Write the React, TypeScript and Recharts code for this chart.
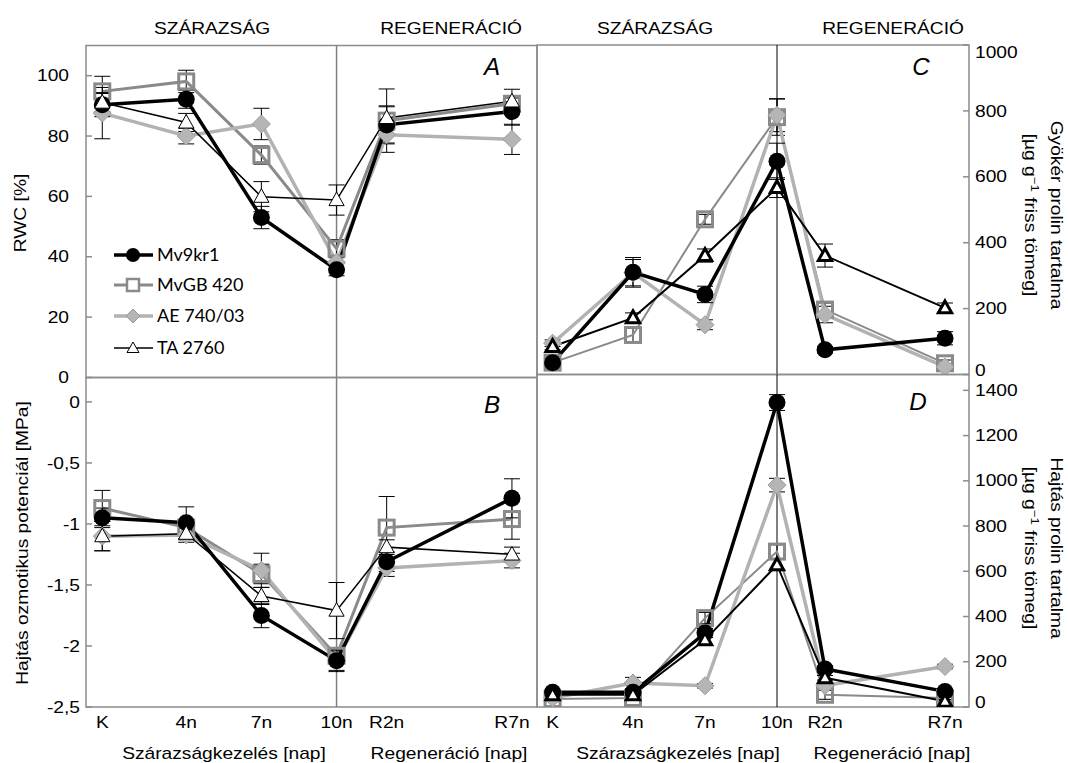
import React from "react";
import {
  LineChart,
  Line,
  XAxis,
  YAxis,
  ErrorBar,
  ReferenceLine,
  ReferenceArea,
} from "recharts";

const W = 1068;
const H = 763;

// sampling days (K = control) and their tick labels
const dayPos = [0.65, 4, 7, 10, 12, 17];
const dayLabels = ["K", "4n", "7n", "10n", "R2n", "R7n"];
const cultivars = ["Mv9kr1", "MvGB 420", "AE 740/03", "TA 2760"];

// A: RWC [%]
const rwcMv9kr1 = [90.4, 92.2, 53.0, 35.7, 83.7, 88.1];
const rwcMvGB420 = [94.8, 98.1, 73.7, 42.7, 85.1, 90.7];
const rwcAE74003 = [87.6, 80.0, 84.0, 38.2, 80.4, 78.9];
const rwcTA2760 = [91.1, 84.5, 59.9, 58.8, 86.0, 91.5];
const rwcMv9kr1Sd = [4, 3, 3.7, 2, 6, 4.5];
const rwcMvGB420Sd = [5, 3.7, 3, 3, 10.5, 2.3];
const rwcAE74003Sd = [8.5, 2.6, 5.2, 2, 3, 5];
const rwcTA2760Sd = [3, 3, 5, 5, 4, 4];

// B: shoot osmotic potential [MPa]
const opMv9kr1 = [-0.95, -0.99, -1.75, -2.12, -1.31, -0.79];
const opMvGB420 = [-0.87, -1.03, -1.41, -2.08, -1.03, -0.96];
const opAE74003 = [-1.1, -1.09, -1.38, -2.12, -1.36, -1.3];
const opTA2760 = [-1.1, -1.08, -1.59, -1.71, -1.19, -1.25];
const opMv9kr1Sd = [0.08, 0.13, 0.1, 0.09, 0.08, 0.16];
const opMvGB420Sd = [0.145, 0.06, 0.08, 0.05, 0.255, 0.165];
const opAE74003Sd = [0.12, 0.06, 0.14, 0.08, 0.07, 0.06];
const opTA2760Sd = [0.12, 0.05, 0.07, 0.23, 0.06, 0.06];

// C: root proline [ug/g fresh weight]
const rootMv9kr1 = [36, 310, 243, 647, 75, 110];
const rootMvGB420 = [36, 120, 471, 781, 197, 34];
const rootAE74003 = [95, 309, 151, 787, 182, 23];
const rootTA2760 = [85, 172, 361, 567, 361, 202];
const rootMv9kr1Sd = [10, 45, 25, 55, 10, 20];
const rootMvGB420Sd = [8, 20, 15, 55, 20, 10];
const rootAE74003Sd = [10, 40, 15, 50, 25, 8];
const rootTA2760Sd = [10, 15, 20, 30, 35, 15];

// D: shoot proline [ug/g fresh weight]
const shootMv9kr1 = [65, 65, 327, 1346, 168, 69];
const shootMvGB420 = [35, 40, 393, 687, 54, 40];
const shootAE74003 = [40, 106, 94, 981, 95, 179];
const shootTA2760 = [54, 54, 297, 628, 129, 25];
const shootMv9kr1Sd = [10, 10, 20, 35, 15, 10];
const shootMvGB420Sd = [8, 8, 25, 30, 20, 8];
const shootAE74003Sd = [8, 25, 10, 30, 10, 10];
const shootTA2760Sd = [8, 8, 20, 25, 10, 8];

const rwcTicks = [0, 20, 40, 60, 80, 100];
const opTicks = [0, -0.5, -1, -1.5, -2, -2.5];
const rootTicks = [0, 200, 400, 600, 800, 1000];
const shootTicks = [0, 200, 400, 600, 800, 1000, 1200, 1400];

const INK = "#000000";
const MID = "#8a8a8a";
const LIGHT = "#b2b2b2";
const FRAME = "#8c8c8c";
const AXIS_FONT = "'Liberation Sans', Arial, sans-serif";
const SX = 1.2;

const comma = (v: number) => String(v).replace(".", ",");

// markers
const dotCircle = (p: any) => (
  <circle key={`c${p.index}`} cx={p.cx} cy={p.cy} r={8.5} fill={INK} />
);
const dotSquare = (p: any) => (
  <rect
    key={`s${p.index}`}
    x={p.cx - 7.5}
    y={p.cy - 7.5}
    width={15}
    height={15}
    fill="none"
    stroke={MID}
    strokeWidth={3}
  />
);
const dotDiamond = (p: any) => (
  <polygon
    key={`d${p.index}`}
    points={`${p.cx},${p.cy - 9} ${p.cx + 9},${p.cy} ${p.cx},${p.cy + 9} ${p.cx - 9},${p.cy}`}
    fill="#b5b5b5"
    stroke="#9c9c9c"
    strokeWidth={1}
  />
);
const dotTriangle = (sw: number, s: number) => (p: any) => (
  <polygon
    key={`t${p.index}`}
    points={`${p.cx},${p.cy - s} ${p.cx + s * 0.95},${p.cy + s * 0.7} ${p.cx - s * 0.95},${p.cy + s * 0.7}`}
    fill="#ffffff"
    stroke={INK}
    strokeWidth={sw}
  />
);

function makeYTick(
  side: "left" | "right",
  gap: number,
  fmt: (v: number) => string,
  shift: Record<string, number>
) {
  return (props: any) => {
    const { x, y, payload } = props;
    const v = payload.value as number;
    const inward = side === "left" ? 6 : -6;
    const lx = side === "left" ? x - gap : x + gap;
    return (
      <g key={`y${v}`}>
        <line x1={x} x2={x + inward} y1={y} y2={y} stroke={FRAME} strokeWidth={1.5} />
        <text
          transform={`translate(${lx} ${y + (shift[String(v)] ?? 0)}) scale(${SX} 1)`}
          dy="0.35em"
          textAnchor={side === "left" ? "end" : "start"}
          fontFamily={AXIS_FONT}
          fontSize={16}
          fill={INK}
        >
          {fmt(v)}
        </text>
      </g>
    );
  };
}

const xTick = (props: any) => {
  const { x, y, payload } = props;
  const i = dayPos.indexOf(payload.value);
  return (
    <text
      key={`x${i}`}
      transform={`translate(${x} ${y + 15}) scale(${SX} 1)`}
      dy="0.35em"
      textAnchor="middle"
      fontFamily={AXIS_FONT}
      fontSize={16}
      fill={INK}
    >
      {dayLabels[i]}
    </text>
  );
};

type PanelProps = {
  series: number[][];
  errs: number[][];
  left: number;
  top: number;
  right: number;
  bottom: number;
  domain: [number, number];
  ticks: number[];
  fmt: (v: number) => string;
  side: "left" | "right";
  gap: number;
  shift?: Record<string, number>;
  withX: boolean;
  divider: string;
  dividerWidth: number;
  widths: number[];
  triStroke: number;
  triSize: number;
};

function Panel(p: PanelProps) {
  const rows = dayPos.map((d, i) => ({
    day: d,
    v0: p.series[0][i],
    e0: p.errs[0][i],
    v1: p.series[1][i],
    e1: p.errs[1][i],
    v2: p.series[2][i],
    e2: p.errs[2][i],
    v3: p.series[3][i],
    e3: p.errs[3][i],
  }));
  const axisW = 10;
  const xh = 10;
  const margin = {
    top: p.top,
    bottom: p.withX ? H - p.bottom - xh : H - p.bottom,
    left: p.side === "left" ? p.left - axisW : p.left,
    right: p.side === "right" ? W - p.right - axisW : W - p.right,
  };
  const err = (k: string) => (
    <ErrorBar
      dataKey={k}
      direction="y"
      width={8}
      stroke={INK}
      strokeWidth={1}
      isAnimationActive={false}
    />
  );
  return (
    <div style={{ position: "absolute", left: 0, top: 0 }}>
      <LineChart width={W} height={H} data={rows} margin={margin}>
        <XAxis
          type="number"
          dataKey="day"
          domain={[0, 18]}
          ticks={dayPos}
          interval={0}
          hide={!p.withX}
          height={xh}
          axisLine={false}
          tickLine={false}
          tickSize={0}
          tickMargin={0}
          tick={xTick}
          allowDataOverflow
        />
        <YAxis
          type="number"
          orientation={p.side}
          domain={p.domain}
          ticks={p.ticks}
          interval={0}
          width={axisW}
          axisLine={false}
          tickLine={false}
          tickSize={0}
          tickMargin={0}
          tick={makeYTick(p.side, p.gap, p.fmt, p.shift ?? {})}
          allowDataOverflow
        />
        <ReferenceArea
          x1={0}
          x2={18}
          y1={p.domain[0]}
          y2={p.domain[1]}
          fill="none"
          stroke={FRAME}
          strokeWidth={1.5}
        />
        <ReferenceLine x={10} stroke={p.divider} strokeWidth={p.dividerWidth} />
        <Line
          dataKey="v1"
          stroke={MID}
          strokeWidth={p.widths[1]}
          dot={dotSquare}
          isAnimationActive={false}
        >
          {err("e1")}
        </Line>
        <Line
          dataKey="v2"
          stroke={LIGHT}
          strokeWidth={p.widths[2]}
          dot={dotDiamond}
          isAnimationActive={false}
        >
          {err("e2")}
        </Line>
        <Line
          dataKey="v0"
          stroke={INK}
          strokeWidth={p.widths[0]}
          dot={dotCircle}
          isAnimationActive={false}
        >
          {err("e0")}
        </Line>
        <Line
          dataKey="v3"
          stroke={INK}
          strokeWidth={p.widths[3]}
          dot={dotTriangle(p.triStroke, p.triSize)}
          isAnimationActive={false}
        >
          {err("e3")}
        </Line>
      </LineChart>
    </div>
  );
}

function T({
  x,
  y,
  children,
  rotate = 0,
  size = 16,
  anchor = "middle",
  italic = false,
  sx = SX,
  font = AXIS_FONT,
}: any) {
  return (
    <text
      transform={`translate(${x} ${y}) rotate(${rotate}) scale(${sx} 1)`}
      dy="0.35em"
      textAnchor={anchor}
      fontFamily={font}
      fontSize={size}
      fontStyle={italic ? "italic" : "normal"}
      fill={INK}
    >
      {children}
    </text>
  );
}

function LegendRow({ y, i }: { y: number; i: number }) {
  const cx = 133;
  const line = [
    { stroke: INK, w: 3.5 },
    { stroke: MID, w: 3 },
    { stroke: LIGHT, w: 3.5 },
    { stroke: INK, w: 1.5 },
  ][i];
  const marker = [
    <circle cx={cx} cy={y} r={7} fill={INK} />,
    <rect x={cx - 6} y={y - 6} width={12} height={12} fill="#fff" stroke={MID} strokeWidth={2.5} />,
    <polygon
      points={`${cx},${y - 7} ${cx + 7},${y} ${cx},${y + 7} ${cx - 7},${y}`}
      fill="#b5b5b5"
      stroke="#9c9c9c"
    />,
    <polygon
      points={`${cx},${y - 6} ${cx + 6},${y + 4.5} ${cx - 6},${y + 4.5}`}
      fill="#fff"
      stroke={INK}
    />,
  ][i];
  return (
    <g>
      <line x1={114} x2={153} y1={y} y2={y} stroke={line.stroke} strokeWidth={line.w} />
      {marker}
      <text x={157} y={y} dy="0.35em" fontFamily="Lato, sans-serif" fontSize={18} fill={INK}>
        {cultivars[i]}
      </text>
    </g>
  );
}

export default function App() {
  const thinLines = [3.5, 3, 3.5, 1.5];
  const boldLines = [3.5, 2, 3.5, 2];
  return (
    <div style={{ position: "absolute", left: 0, top: 0, width: W, height: H, background: "#fff" }}>
      <Panel
        series={[rwcMv9kr1, rwcMvGB420, rwcAE74003, rwcTA2760]}
        errs={[rwcMv9kr1Sd, rwcMvGB420Sd, rwcAE74003Sd, rwcTA2760Sd]}
        left={86}
        top={45.5}
        right={537}
        bottom={377.5}
        domain={[0, 110]}
        ticks={rwcTicks}
        fmt={comma}
        side="left"
        gap={17}
        withX={false}
        divider="#7f7f7f"
        dividerWidth={1.5}
        widths={thinLines}
        triStroke={1}
        triSize={8}
      />
      <Panel
        series={[opMv9kr1, opMvGB420, opAE74003, opTA2760]}
        errs={[opMv9kr1Sd, opMvGB420Sd, opAE74003Sd, opTA2760Sd]}
        left={86}
        top={377.5}
        right={537}
        bottom={707}
        domain={[-2.5, 0.2]}
        ticks={opTicks}
        fmt={comma}
        side="left"
        gap={6}
        withX={true}
        divider="#7f7f7f"
        dividerWidth={1.5}
        widths={thinLines}
        triStroke={1}
        triSize={8}
      />
      <Panel
        series={[rootMv9kr1, rootMvGB420, rootAE74003, rootTA2760]}
        errs={[rootMv9kr1Sd, rootMvGB420Sd, rootAE74003Sd, rootTA2760Sd]}
        left={537}
        top={45}
        right={969}
        bottom={374.5}
        domain={[0, 1000]}
        ticks={rootTicks}
        fmt={comma}
        side="right"
        gap={6}
        shift={{ "1000": 7.5, "0": -4.5 }}
        withX={false}
        divider={INK}
        dividerWidth={1}
        widths={boldLines}
        triStroke={3}
        triSize={7}
      />
      <Panel
        series={[shootMv9kr1, shootMvGB420, shootAE74003, shootTA2760]}
        errs={[shootMv9kr1Sd, shootMvGB420Sd, shootAE74003Sd, shootTA2760Sd]}
        left={537}
        top={374.5}
        right={969}
        bottom={707}
        domain={[0, 1470]}
        ticks={shootTicks}
        fmt={comma}
        side="right"
        gap={6}
        shift={{ "0": -5 }}
        withX={true}
        divider={INK}
        dividerWidth={1}
        widths={boldLines}
        triStroke={3}
        triSize={7}
      />
      <svg
        width={W}
        height={H}
        style={{ position: "absolute", left: 0, top: 0, pointerEvents: "none" }}
      >
        <T x={212} y={28}>SZÁRAZSÁG</T>
        <T x={451} y={28}>REGENERÁCIÓ</T>
        <T x={655} y={28}>SZÁRAZSÁG</T>
        <T x={893} y={28}>REGENERÁCIÓ</T>

        <T x={20} y={213} rotate={-90}>RWC [%]</T>
        <T x={22} y={543} rotate={-90}>Hajtás ozmotikus potenciál [MPa]</T>

        <T x={1057} y={215} rotate={90}>Gyökér prolin tartalma</T>
        <T x={1031} y={215} rotate={90}>
          [µg g<tspan fontSize={11} dy={-6}>−1</tspan>
          <tspan dy={6}> friss tömeg]</tspan>
        </T>
        <T x={1057} y={548} rotate={90}>Hajtás prolin tartalma</T>
        <T x={1031} y={548} rotate={90}>
          [µg g<tspan fontSize={11} dy={-6}>−1</tspan>
          <tspan dy={6}> friss tömeg]</tspan>
        </T>

        <T x={224} y={753}>Szárazságkezelés [nap]</T>
        <T x={449} y={753}>Regeneráció [nap]</T>
        <T x={678} y={753}>Szárazságkezelés [nap]</T>
        <T x={892} y={753}>Regeneráció [nap]</T>

        <T x={492} y={67} size={23} italic sx={1.05}>A</T>
        <T x={492} y={405} size={23} italic sx={1.05}>B</T>
        <T x={921} y={67} size={23} italic sx={1.05}>C</T>
        <T x={918} y={402} size={23} italic sx={1.05}>D</T>

        <LegendRow y={255} i={0} />
        <LegendRow y={285} i={1} />
        <LegendRow y={316} i={2} />
        <LegendRow y={348} i={3} />
      </svg>
    </div>
  );
}
